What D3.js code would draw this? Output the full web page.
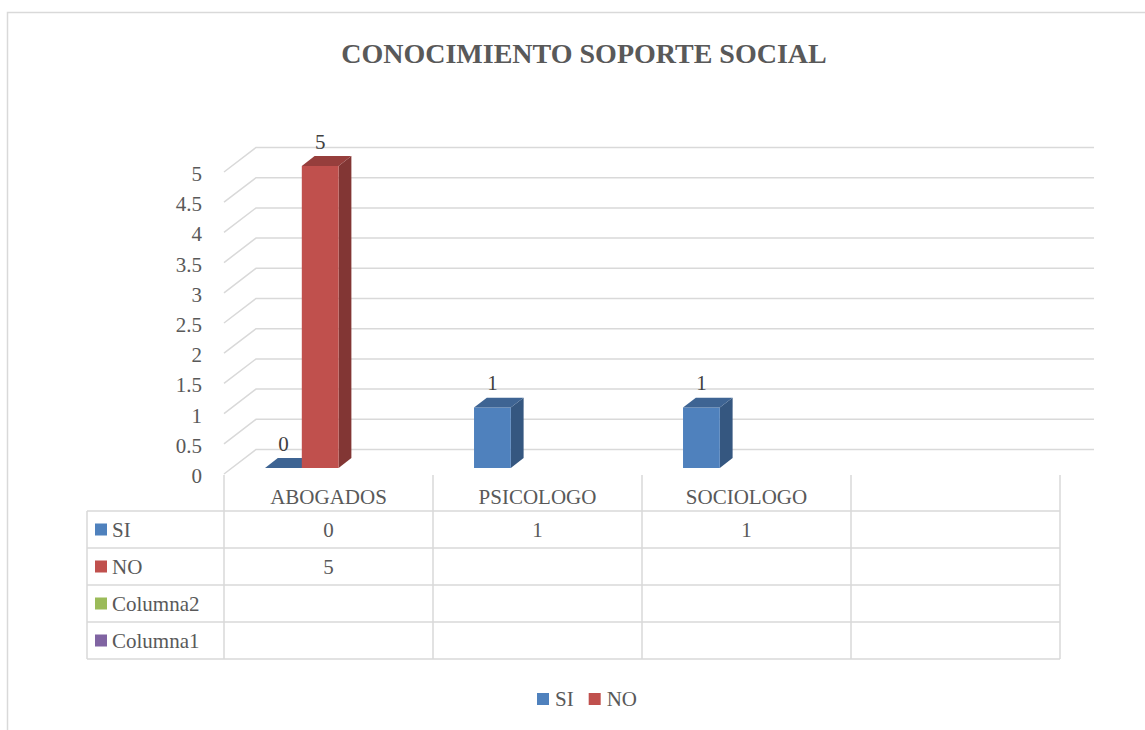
<!DOCTYPE html>
<html>
<head>
<meta charset="utf-8">
<script src="https://cdn.jsdelivr.net/npm/d3@7"></script>
<style>
  body { margin: 0; background: #fff; }
  text { font-family: "Liberation Serif", serif; fill: #595959; }
</style>
</head>
<body>
<div id="chart"></div>
<script>
// Chart data
var categories = ['ABOGADOS', 'PSICOLOGO', 'SOCIOLOGO', ''];
var seriesNames = ['SI', 'NO', 'Columna2', 'Columna1'];
var seriesColors = ['#4F81BD', '#C0504D', '#9BBB59', '#8064A2'];
var siValues = [0, 1, 1, null];
var noValues = [5, null, null, null];
var columna2Values = [null, null, null, null];
var columna1Values = [null, null, null, null];
var yTicks = [0, 0.5, 1, 1.5, 2, 2.5, 3, 3.5, 4, 4.5, 5];
var legendNames = ['SI', 'NO'];

var seriesValues = [siValues, noValues, columna2Values, columna1Values];

var width = 1145, height = 730;
var DX = 32, DY = 24.5;      // depth offset of the 3D box
var t0 = 0.25, t1 = 0.65;    // bar depth (front / back) inside the box

var svg = d3.select('#chart')
            .append('svg')
            .attr('width', width)
            .attr('height', height);

// Chart border
svg.append('rect')
   .attr('x', 7.5).attr('y', 12.5)
   .attr('width', 1160).attr('height', 740)
   .attr('fill', 'none')
   .attr('stroke', '#d9d9d9')
   .attr('stroke-width', 1.5);

// Title
svg.append('text')
   .attr('x', 584).attr('y', 63)
   .attr('text-anchor', 'middle')
   .style('font-size', '28px')
   .style('font-weight', 'bold')
   .text('CONOCIMIENTO SOPORTE SOCIAL');

// Scales (front plane of the 3D box)
var xScale = d3.scaleBand()
               .domain(categories)
               .range([224, 1060]);

var subScale = d3.scaleBand()
                 .domain(seriesNames)
                 .range([xScale.bandwidth() * 0.158, xScale.bandwidth() * 0.862]);

var yScale = d3.scaleLinear()
               .domain([0, 5])
               .range([474, 172]);

function proj (x, v, t)
{
    return [x + DX * t, yScale(v) - DY * t];
}

// Gridlines: back wall + side diagonals
var x0 = xScale.range()[0], x1 = xScale.range()[1];
yTicks.forEach(function (v)
{
    var a = proj(x0, v, 0), b = proj(x0, v, 1), c = proj(x1 + 2, v, 1);
    svg.append('polyline')
       .attr('points', [a, b, c].map(function (p) { return p.join(','); }).join(' '))
       .attr('fill', 'none')
       .attr('stroke', '#d9d9d9')
       .attr('stroke-width', 1.5);
});

// Y axis labels
svg.selectAll('.ytick')
   .data(yTicks)
   .enter()
   .append('text')
   .attr('class', 'ytick')
   .attr('x', 202)
   .attr('y', function (d) { return yScale(d) + 9; })
   .attr('text-anchor', 'end')
   .style('font-size', '21px')
   .text(function (d) { return d; });

// Bars
function shade (col, k) { return d3.color(col).darker(k).toString(); }

categories.forEach(function (cat, j)
{
    seriesNames.forEach(function (s, i)
    {
        var v = seriesValues[i][j];
        if (v === null) return;
        var xa = xScale(cat) + subScale(s);
        var xb = xa + subScale.bandwidth();
        var col = seriesColors[i];
        var g = svg.append('g');
        var pts = function (arr) { return arr.map(function (p) { return p.join(','); }).join(' '); };

        g.append('polygon')
         .attr('points', pts([proj(xb, 0, t0), proj(xb, 0, t1), proj(xb, v, t1), proj(xb, v, t0)]))
         .attr('fill', shade(col, 1.1));
        g.append('polygon')
         .attr('points', pts([proj(xa, 0, t0), proj(xb, 0, t0), proj(xb, v, t0), proj(xa, v, t0)]))
         .attr('fill', col);
        g.append('polygon')
         .attr('points', pts([proj(xa, v, t0), proj(xb, v, t0), proj(xb, v, t1), proj(xa, v, t1)]))
         .attr('fill', shade(col, 0.7));

        var top = proj((xa + xb) / 2, v, t0);
        g.append('text')
         .attr('x', top[0])
         .attr('y', top[1] - 17)
         .attr('text-anchor', 'middle')
         .style('font-size', '21px')
         .style('fill', '#404040')
         .text(v);
    });
});

// Data table
var rowScale = d3.scaleBand()
                 .domain(seriesNames)
                 .range([511, 659]);

var lineColor = '#d9d9d9';
var tableLeft = 87;

// horizontal lines
[511].concat(seriesNames.map(function (s) { return rowScale(s) + rowScale.bandwidth(); }))
    .forEach(function (y)
    {
        svg.append('line')
           .attr('x1', tableLeft).attr('x2', x1)
           .attr('y1', y).attr('y2', y)
           .attr('stroke', lineColor).attr('stroke-width', 1.5);
    });

// vertical lines
svg.append('line')
   .attr('x1', tableLeft).attr('x2', tableLeft)
   .attr('y1', 511).attr('y2', 659)
   .attr('stroke', lineColor).attr('stroke-width', 1.5);

categories.forEach(function (cat)
{
    svg.append('line')
       .attr('x1', xScale(cat)).attr('x2', xScale(cat))
       .attr('y1', 475).attr('y2', 659)
       .attr('stroke', lineColor).attr('stroke-width', 1.5);
});
svg.append('line')
   .attr('x1', x1).attr('x2', x1)
   .attr('y1', 475).attr('y2', 659)
   .attr('stroke', lineColor).attr('stroke-width', 1.5);

// category headers
svg.selectAll('.cat')
   .data(categories)
   .enter()
   .append('text')
   .attr('x', function (d) { return xScale(d) + xScale.bandwidth() / 2; })
   .attr('y', 504)
   .attr('text-anchor', 'middle')
   .style('font-size', '21px')
   .text(function (d) { return d; });

// row labels with colour keys
seriesNames.forEach(function (s, i)
{
    var yc = rowScale(s) + rowScale.bandwidth() / 2;
    svg.append('rect')
       .attr('x', 95).attr('y', yc - 6)
       .attr('width', 12).attr('height', 12)
       .attr('fill', seriesColors[i]);
    svg.append('text')
       .attr('x', 112).attr('y', yc + 7)
       .style('font-size', '21px')
       .text(s);

    categories.forEach(function (cat, j)
    {
        var v = seriesValues[i][j];
        if (v === null) return;
        svg.append('text')
           .attr('x', xScale(cat) + xScale.bandwidth() / 2)
           .attr('y', yc + 7)
           .attr('text-anchor', 'middle')
           .style('font-size', '21px')
           .text(v);
    });
});

// Legend
var legend = svg.append('g');
var lx = 537;
legendNames.forEach(function (name)
{
    var i = seriesNames.indexOf(name);
    legend.append('rect')
          .attr('x', lx).attr('y', 693)
          .attr('width', 12).attr('height', 12)
          .attr('fill', seriesColors[i]);
    var t = legend.append('text')
                  .attr('x', lx + 18).attr('y', 706)
                  .style('font-size', '21px')
                  .text(name);
    lx += 18 + t.node().getComputedTextLength() + 15;
});
</script>
</body>
</html>
